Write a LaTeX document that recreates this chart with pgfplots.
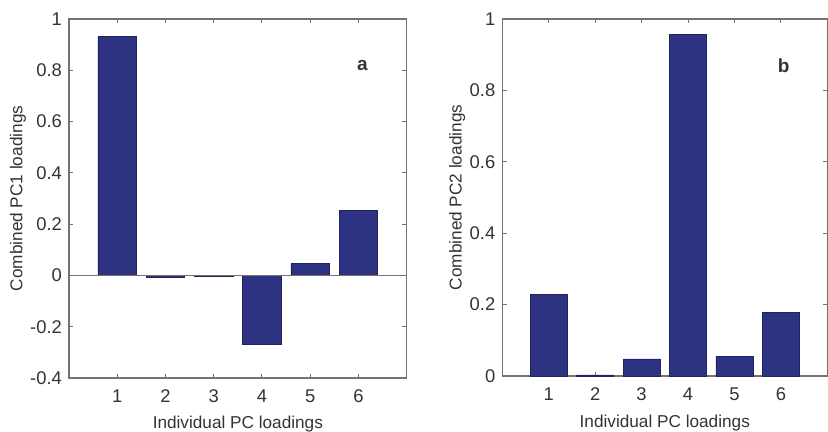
\documentclass[border=0pt]{standalone}
\usepackage{pgfplots}
\pgfplotsset{compat=1.18}
\usepackage{fontspec}
\setmainfont{Liberation Sans}
\definecolor{barblue}{HTML}{2E3283}
\definecolor{axgray}{HTML}{7A716C}
\definecolor{txt}{HTML}{333333}
\pgfplotsset{
  matstyle/.style={
    scale only axis,
    axis line style={axgray, line width=0.6pt},
    tick style={axgray, line width=0.5pt},
    tick align=inside,
    major tick length=2.2pt,
    xmin=0, xmax=7,
    xtick={1,2,3,4,5,6},
    ticklabel style={font=\fontsize{9.2}{10}\selectfont, text=txt},
    xticklabel style={yshift=-2.5pt},
    label style={font=\fontsize{8.6}{10}\selectfont, text=txt},
    /pgf/number format/assume math mode=true,
    ytick pos=both, xtick pos=both,
    clip=false,
  }
}
\begin{document}
\begin{tikzpicture}
\path[use as bounding box] (0,0) rectangle (414pt,216pt);
% panel a
\begin{axis}[matstyle,
  at={(34.5pt,27pt)}, anchor=south west,
  width=168.85pt, height=179.5pt,
  ymin=-0.4, ymax=1,
  ytick={-0.4,-0.2,0,0.2,0.4,0.6,0.8,1},
  yticklabels={-0.4,-0.2,0,0.2,0.4,0.6,0.8,1},
  xlabel={Individual PC loadings},
  ylabel={Combined PC1 loadings},
  xlabel style={at={(axis description cs:0.5,-0.127)}, anchor=center},
  ylabel style={at={(axis description cs:-0.151,0.5)}, anchor=center},
]
\addplot[ybar, bar width=0.8, fill=barblue, draw=barblue!70!black, line width=0.3pt] coordinates {
(1,0.931) (2,-0.008) (3,-0.003) (4,-0.269) (5,0.046) (6,0.255)};
\addplot[axgray, line width=0.6pt] coordinates {(0,0) (7,0)};
\node[font=\bfseries\fontsize{9.5}{10}\selectfont, text=txt] at (axis cs:6.08,0.82) {a};
\end{axis}
% panel b
\begin{axis}[matstyle,
  at={(251.15pt,28pt)}, anchor=south west,
  width=162.5pt, height=178.5pt,
  ymin=0, ymax=1,
  ytick={0,0.2,0.4,0.6,0.8,1},
  yticklabels={0,0.2,0.4,0.6,0.8,1},
  xlabel={Individual PC loadings},
  ylabel={Combined PC2 loadings},
  xlabel style={at={(axis description cs:0.5,-0.133)}, anchor=center},
  ylabel style={at={(axis description cs:-0.139,0.5)}, anchor=center},
]
\addplot[ybar, bar width=0.8, fill=barblue, draw=barblue!70!black, line width=0.3pt] coordinates {
(1,0.229) (2,0.003) (3,0.048) (4,0.957) (5,0.055) (6,0.179)};
\node[font=\bfseries\fontsize{9.5}{10}\selectfont, text=txt] at (axis cs:6.06,0.87) {b};
\end{axis}
\end{tikzpicture}
\end{document}
